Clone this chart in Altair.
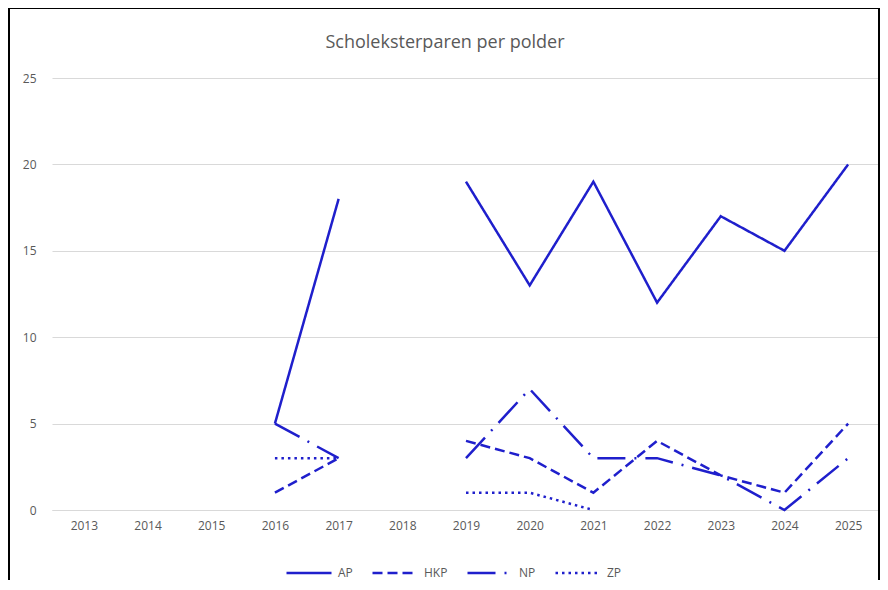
import altair as alt
import pandas as pd

years = ["2013", "2014", "2015", "2016", "2017", "2018", "2019",
         "2020", "2021", "2022", "2023", "2024", "2025"]
series = ["AP", "HKP", "NP", "ZP"]
ap = [None, None, None, 5, 18, None, 19, 13, 19, 12, 17, 15, 20]
hkp = [None, None, None, 1, 3, None, 4, 3, 1, 4, 2, 1, 5]
np_ = [None, None, None, 5, 3, None, 3, 7, 3, 3, 2, 0, 3]
zp = [None, None, None, 3, 3, None, 1, 1, 0, None, None, None, None]
title_text = ["Scholeksterparen per polder"]

rows = []
for name, vals in zip(series, [ap, hkp, np_, zp]):
    seg = 0
    for yr, v in zip(years, vals):
        if v is None:
            seg += 1
            continue
        rows.append({"jaar": yr, "paren": v, "polder": name, "seg": f"{name}-{seg}"})
df = pd.DataFrame(rows)

BLUE = "#1f1fcc"
GREY = "#595959"
FONT = "Open Sans"
W, H = 828, 432
PL, PT, PR, PB = 44, 70, 0, 70

lines = alt.Chart(df).mark_line(color=BLUE, strokeWidth=2.5, strokeCap="butt").encode(
    x=alt.X("jaar:O", scale=alt.Scale(domain=years, paddingInner=0, paddingOuter=0.5),
            axis=alt.Axis(title=None, labelAngle=0, ticks=False, domain=True,
                          domainColor="#d9d9d9", labelPadding=10, grid=False)),
    y=alt.Y("paren:Q", scale=alt.Scale(domain=[0, 25], nice=False),
            axis=alt.Axis(title=None, values=[0, 5, 10, 15, 20, 25], ticks=False,
                          domain=False, gridColor="#d9d9d9", labelPadding=16)),
    strokeDash=alt.StrokeDash(
        "polder:N",
        scale=alt.Scale(domain=series,
                        range=[[1, 0], [10, 5], [28, 9, 2, 9], [2.5, 4]]),
        legend=alt.Legend(title=None, orient="none", direction="horizontal",
                          legendX=233, legendY=471, symbolType="stroke",
                          symbolSize=2025, symbolStrokeWidth=2.5,
                          symbolStrokeColor=BLUE, labelOffset=5,
                          columnPadding=14, labelFont=FONT, labelFontSize=12,
                          labelColor=GREY),
    ),
    detail="seg:N",
    order=alt.Order("jaar:O"),
)

border = alt.Chart(pd.DataFrame({"a": [0]})).mark_rect(
    fillOpacity=0, stroke="black", strokeWidth=2
).encode(
    x=alt.value(-PL + 1), x2=alt.value(W + PR - 1),
    y=alt.value(-PT + 0), y2=alt.value(H + PB + 20),
)

title = alt.Chart(pd.DataFrame({"t": title_text})).mark_text(
    font=FONT, fontSize=18, color=GREY, align="center", baseline="alphabetic"
).encode(
    text="t:N", x=alt.value(393), y=alt.value(-30),
)

chart = alt.layer(border, lines, title).properties(
    width=W, height=H,
    autosize=alt.AutoSizeParams(type="none"),
    padding={"left": PL, "top": PT, "right": PR, "bottom": PB},
).configure_view(stroke=None).configure_axis(
    labelFont=FONT, labelFontSize=12, labelColor=GREY
)

chart.save("out.html", embed_options={"renderer": "svg", "actions": False})
